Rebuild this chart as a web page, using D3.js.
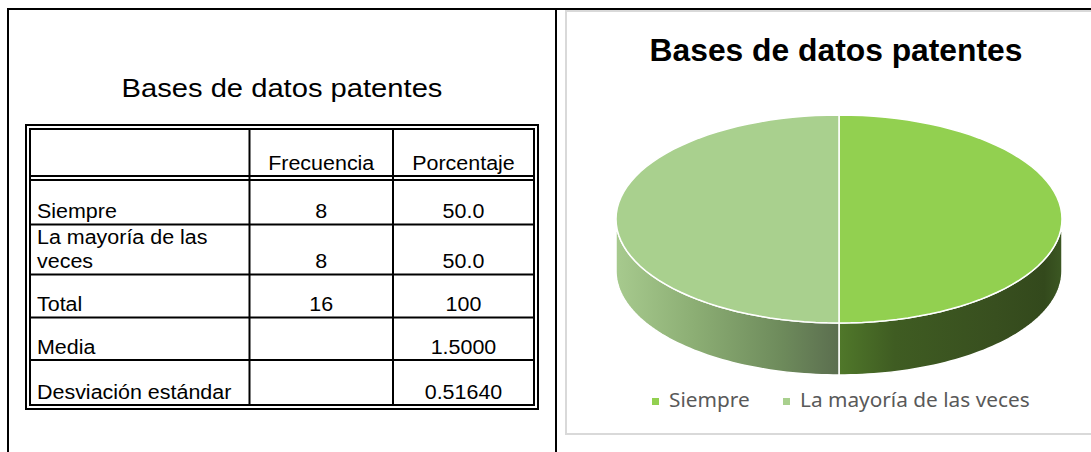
<!DOCTYPE html>
<html>
<head>
<meta charset="utf-8">
<script src="https://cdn.jsdelivr.net/npm/d3@7"></script>
<style>
  html, body { margin: 0; padding: 0; background: #ffffff; }
  svg { display: block; }
</style>
</head>
<body>
<svg id="chart" width="1091" height="452"></svg>
<script>
// ---------------- DATA ----------------
const chartTitle = "Bases de datos patentes";
const categories = ["Siempre", "La mayoría de las veces"];
const frequencies = [8, 8];
const percentages = [50.0, 50.0];
const headerLabels = ["", "Frecuencia", "Porcentaje"];
const rowLabels = [["Siempre"], ["La mayoría de las", "veces"], ["Total"], ["Media"], ["Desviación estándar"]];
const freqColumn = ["8", "8", "16", "", ""];
const pctColumn = ["50.0", "50.0", "100", "1.5000", "0.51640"];
const sliceColors = ["#92d050", "#a9d08e"];

// ---------------- LAYOUT ----------------
const svg = d3.select("#chart");
const W = 1091, H = 452;
const LEFT_FONT = "'Liberation Sans', Arial, Helvetica, sans-serif";
const stretchX = 1.1;

function stretchText(sel, k) {
  sel.each(function () {
    const len = this.getComputedTextLength();
    if (len > 0) {
      d3.select(this).attr("textLength", len * k).attr("lengthAdjust", "spacingAndGlyphs");
    }
  });
}

// page frame (black)
const frame = svg.append("g").attr("stroke", "#000").attr("stroke-width", 2).attr("fill", "none");
frame.append("line").attr("x1", 7).attr("x2", W).attr("y1", 9).attr("y2", 9);
frame.append("line").attr("x1", 8).attr("x2", 8).attr("y1", 8).attr("y2", H);
frame.append("line").attr("x1", 556).attr("x2", 556).attr("y1", 8).attr("y2", H);

// ---------------- LEFT: TABLE ----------------
const left = svg.append("g");
const tTitle = left.append("text")
  .attr("x", 282).attr("y", 96.5)
  .attr("text-anchor", "middle")
  .attr("font-family", LEFT_FONT)
  .attr("font-size", 26.5)
  .attr("fill", "#000")
  .text(chartTitle);
stretchText(tTitle, stretchX);

const colEdges = [30, 249.5, 393, 534];
const rowEdges = [129, 176, 224.5, 274.5, 317.5, 360, 405];

const tbl = left.append("g").attr("stroke", "#000").attr("fill", "none");
// outer double border
tbl.append("rect").attr("x", 26).attr("y", 125).attr("width", 538 - 26).attr("height", 409 - 125).attr("stroke-width", 2);
tbl.append("rect").attr("x", 30).attr("y", 129).attr("width", 534 - 30).attr("height", 405 - 129).attr("stroke-width", 2);
// header double line
tbl.append("line").attr("x1", 30).attr("x2", 534).attr("y1", 176).attr("y2", 176).attr("stroke-width", 2);
tbl.append("line").attr("x1", 30).attr("x2", 534).attr("y1", 180).attr("y2", 180).attr("stroke-width", 2);
// row lines
tbl.selectAll("line.row").data(rowEdges.slice(2, rowEdges.length - 1)).enter()
  .append("line").attr("class", "row")
  .attr("x1", 30).attr("x2", 534).attr("y1", d => d).attr("y2", d => d).attr("stroke-width", 2);
// column lines
tbl.selectAll("line.col").data(colEdges.slice(1, 3)).enter()
  .append("line").attr("class", "col")
  .attr("x1", d => d).attr("x2", d => d).attr("y1", 129).attr("y2", 405).attr("stroke-width", 2);

const txt = left.append("g").attr("font-family", LEFT_FONT).attr("font-size", 19.5).attr("fill", "#000");
headerLabels.forEach((h, i) => {
  if (!h) return;
  txt.append("text")
    .attr("x", (colEdges[i] + colEdges[i + 1]) / 2)
    .attr("y", rowEdges[1] - 6.5)
    .attr("text-anchor", "middle")
    .text(h);
});
const lineGap = 24.5;
rowLabels.forEach((lines, r) => {
  const base = rowEdges[r + 2] - 6.5;
  lines.forEach((ln, j) => {
    txt.append("text")
      .attr("x", 37)
      .attr("y", base - (lines.length - 1 - j) * lineGap)
      .text(ln);
  });
  txt.append("text")
    .attr("x", (colEdges[1] + colEdges[2]) / 2)
    .attr("y", base).attr("text-anchor", "middle").text(freqColumn[r]);
  txt.append("text")
    .attr("x", (colEdges[2] + colEdges[3]) / 2)
    .attr("y", base).attr("text-anchor", "middle").text(pctColumn[r]);
});
stretchText(txt.selectAll("text"), stretchX);

// ---------------- RIGHT: 3D PIE ----------------
const right = svg.append("g");
right.append("rect")
  .attr("x", 566).attr("y", 11).attr("width", 560).attr("height", 423)
  .attr("fill", "#fff").attr("stroke", "#d9d9d9").attr("stroke-width", 2);

right.append("text")
  .attr("x", 836).attr("y", 61)
  .attr("text-anchor", "middle")
  .attr("font-family", "'Liberation Sans', Arial, sans-serif")
  .attr("font-weight", "bold")
  .attr("font-size", 31.8)
  .attr("fill", "#000")
  .text(chartTitle);

const cx = 839, cy = 219, rx = 223, ry = 104, depth = 52;
const pie = d3.pie().sort(null).value(d => d)(frequencies);
const pt = (a, dy = 0) => [cx + rx * Math.sin(a), cy - ry * Math.cos(a) + dy];

const defs = svg.append("defs");
const gL = defs.append("linearGradient").attr("id", "sideL").attr("gradientUnits", "userSpaceOnUse")
  .attr("x1", cx - rx).attr("x2", cx).attr("y1", 0).attr("y2", 0);
[[0, "#a7ca8e"], [0.35, "#8cae74"], [0.75, "#6d8a5b"], [1, "#5b6e4f"]]
  .forEach(([o, c]) => gL.append("stop").attr("offset", o).attr("stop-color", c));
const gR = defs.append("linearGradient").attr("id", "sideR").attr("gradientUnits", "userSpaceOnUse")
  .attr("x1", cx).attr("x2", cx + rx).attr("y1", 0).attr("y2", 0);
[[0, "#50782a"], [0.25, "#3f5c22"], [0.7, "#384f1f"], [0.92, "#33491c"], [1, "#3c5823"]]
  .forEach(([o, c]) => gR.append("stop").attr("offset", o).attr("stop-color", c));
const sideFill = ["url(#sideR)", "url(#sideL)"];

function ellipsePath(a0, a1, dy) {
  const n = 60, pts = [];
  for (let i = 0; i <= n; i++) pts.push(pt(a0 + (a1 - a0) * i / n, dy));
  return pts;
}

pie.forEach((s, i) => {
  const a0 = Math.max(s.startAngle, Math.PI / 2);
  const a1 = Math.min(s.endAngle, 3 * Math.PI / 2);
  if (a1 <= a0) return;
  const top = ellipsePath(a0, a1, 0);
  const bot = ellipsePath(a1, a0, depth);
  right.append("path")
    .attr("d", d3.line()(top.concat(bot)) + "Z")
    .attr("fill", sideFill[i])
    .attr("stroke", "#fff").attr("stroke-width", 1.5).attr("stroke-linejoin", "round");
});

pie.forEach((s, i) => {
  const pts = [[cx, cy]].concat(ellipsePath(s.startAngle, s.endAngle, 0));
  right.append("path")
    .attr("d", d3.line()(pts) + "Z")
    .attr("fill", sliceColors[i])
    .attr("stroke", "#fff").attr("stroke-width", 1.5).attr("stroke-linejoin", "round");
});

// legend
const legend = right.append("g").attr("font-family", "'Noto Sans', 'Open Sans', sans-serif")
  .attr("font-size", 20.8).attr("fill", "#595959");
const legX = [652, 783];
categories.forEach((c, i) => {
  legend.append("rect").attr("x", legX[i]).attr("y", 398).attr("width", 7).attr("height", 7).attr("fill", sliceColors[i]);
  legend.append("text").attr("x", legX[i] + 17).attr("y", 406.5).text(c);
});
</script>
</body>
</html>
